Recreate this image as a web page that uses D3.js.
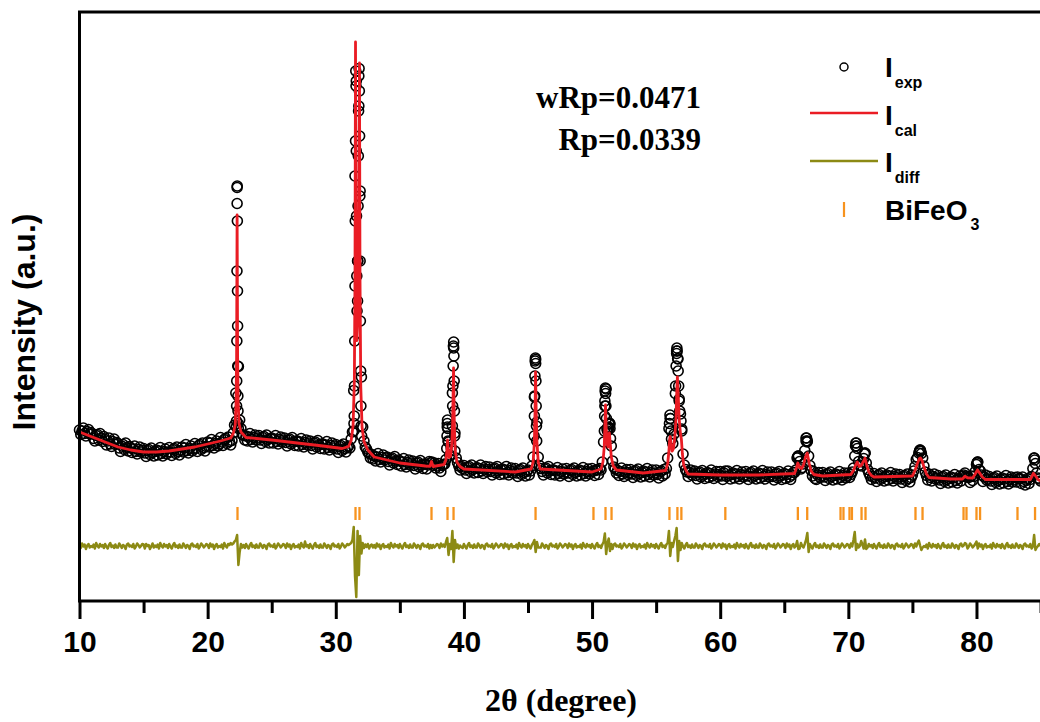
<!DOCTYPE html>
<html><head><meta charset="utf-8">
<script src="https://cdn.jsdelivr.net/npm/d3@7"></script>
<style>body{margin:0;background:#fff} svg{display:block}</style>
</head><body>
<svg id="c" width="1040" height="722"></svg>
<script>
// ---------------- data ----------------
const xMajorTicks = [10,20,30,40,50,60,70,80];
const xMinorTicks = [15,25,35,45,55,65,75,85];
const obsStart = 10, obsStep = 0.1;
const obsI = [
3420,3330,3400,3460,3350,3300,3390,3430,3340,3370,
3340,3250,3200,3310,3330,3220,3350,3260,3190,3290,
3230,3120,3200,3260,3140,3090,3190,3240,3130,3170,
3150,3060,2990,3100,3130,3030,3160,3070,3000,3090,
3060,2970,3040,3100,2990,2940,3030,3080,2980,3010,
3050,2960,2890,3010,3030,2930,3060,2970,2900,2990,
3020,2920,3000,3070,2950,2900,2990,3040,2940,2980,
3070,2980,2910,3030,3050,2950,3080,2990,2920,3010,
3080,2980,3060,3130,3010,2960,3050,3100,3000,3040,
3150,3060,2990,3110,3130,3030,3160,3070,3000,3090,
3180,3080,3160,3230,3110,3060,3150,3200,3100,3140,
3270,3180,3110,3230,3250,3150,3280,3190,3120,3210,
3360,3520,4160,8270,4690,3620,3450,3330,3310,3220,
3300,3200,3280,3350,3230,3180,3270,3320,3220,3260,
3310,3220,3150,3270,3290,3190,3320,3230,3160,3250,
3260,3160,3240,3310,3190,3140,3230,3280,3180,3220,
3260,3170,3100,3220,3240,3140,3270,3180,3110,3200,
3200,3100,3180,3250,3130,3080,3170,3220,3120,3160,
3200,3110,3040,3160,3180,3080,3210,3120,3050,3140,
3140,3040,3120,3190,3070,3020,3110,3160,3060,3100,
3130,3040,2970,3090,3110,3010,3140,3050,2980,3070,
3100,3060,3240,3380,4210,8500,10400,6800,9900,8200,
4480,3480,3200,3080,3040,2980,2950,2860,2930,2840,
2900,2800,2880,2950,2830,2780,2870,2920,2820,2860,
2880,2790,2720,2840,2860,2760,2890,2800,2730,2820,
2800,2700,2780,2850,2730,2680,2770,2820,2720,2760,
2800,2710,2640,2760,2780,2680,2810,2720,2650,2740,
2740,2640,2720,2790,2760,2780,2710,2760,2660,2700,
2750,2660,2590,2710,2730,2740,2830,3480,3180,2920,
3070,4160,5060,3360,2860,2770,2700,2620,2690,2650,
2710,2620,2550,2670,2690,2590,2720,2630,2560,2650,
2670,2570,2650,2720,2600,2550,2640,2690,2590,2630,
2680,2590,2520,2640,2660,2560,2690,2600,2530,2620,
2640,2540,2620,2690,2570,2520,2610,2660,2560,2600,
2650,2560,2490,2610,2630,2530,2660,2570,2500,2590,
2620,2520,2600,2700,2880,4080,4830,3580,2880,2710,
2650,2590,2520,2640,2660,2560,2690,2600,2530,2620,
2620,2520,2600,2670,2550,2500,2590,2640,2540,2580,
2650,2560,2490,2610,2630,2530,2660,2570,2500,2590,
2620,2520,2600,2670,2550,2500,2590,2640,2540,2580,
2650,2600,2510,2610,2630,2530,2650,2620,2780,3180,
3900,4240,3400,3480,3540,3100,2800,2680,2640,2560,
2610,2510,2590,2660,2540,2490,2580,2630,2530,2570,
2630,2540,2470,2590,2610,2510,2640,2550,2480,2570,
2600,2500,2580,2650,2530,2480,2570,2620,2520,2560,
2620,2530,2460,2580,2600,2500,2630,2540,2650,2860,
3450,3650,3240,3150,3340,4150,4950,4840,4040,3740,
3440,2940,2720,2630,2580,2490,2570,2620,2520,2560,
2600,2510,2440,2560,2580,2480,2610,2520,2450,2540,
2570,2470,2550,2620,2500,2450,2540,2590,2490,2530,
2590,2500,2430,2560,2600,2490,2600,2510,2440,2530,
2560,2460,2540,2610,2490,2440,2530,2580,2480,2520,
2590,2500,2430,2550,2570,2470,2600,2510,2440,2530,
2560,2460,2540,2610,2490,2440,2530,2580,2480,2520,
2580,2490,2420,2540,2560,2460,2590,2500,2430,2520,
2550,2450,2530,2600,2480,2430,2520,2570,2570,2620,
2860,2900,2790,2640,2670,2740,3010,3260,3200,2900,
2710,2610,2500,2590,2450,2430,2520,2570,2470,2510,
2570,2480,2410,2530,2550,2450,2580,2490,2420,2510,
2540,2440,2520,2590,2470,2420,2510,2560,2460,2500,
2560,2470,2530,2580,2660,2900,3160,3050,2790,2720,
2700,2780,2850,2960,2760,2630,2560,2500,2430,2490,
2550,2460,2390,2510,2530,2430,2560,2470,2400,2490,
2520,2420,2500,2570,2450,2400,2490,2540,2440,2480,
2530,2440,2370,2490,2510,2410,2540,2450,2380,2470,
2520,2600,2690,2830,2870,2960,3020,2950,2860,2700,
2580,2510,2420,2540,2470,2400,2490,2540,2440,2460,
2510,2420,2350,2470,2490,2390,2520,2430,2360,2450,
2480,2380,2460,2530,2410,2360,2450,2500,2400,2490,
2520,2560,2500,2480,2470,2370,2500,2410,2490,2590,
2730,2780,2630,2600,2520,2390,2480,2520,2420,2440,
2490,2400,2330,2450,2470,2370,2500,2410,2340,2430,
2460,2360,2440,2510,2390,2340,2430,2480,2380,2420,
2470,2380,2480,2440,2450,2350,2480,2390,2320,2410,
2450,2350,2430,2490,2650,2860,2750,2560,2460,2440,
2400];
// extra finely spaced observed points on the peak flanks [2theta, I]
const obsPeakPts = [
[22.24,3480],[22.25,3600],[22.26,3900],[22.27,4400],[22.28,5200],[22.29,6600],[22.30,7950],[22.31,8300],[22.32,7600],[22.33,6200],[22.34,5500],[22.35,4700],[22.36,4100],[22.37,3800],[22.38,3550],[22.40,3450],
[31.40,3400],[31.42,3550],[31.44,3700],[31.46,4300],[31.48,5200],[31.50,6300],[31.52,7600],[31.54,9200],[31.56,10600],[31.58,10300],[31.60,9000],[31.62,7700],[31.64,6500],[31.66,5800],
[31.70,6000],[31.72,6800],[31.74,7900],[31.76,8900],[31.78,9800],[31.80,10500],[31.82,10650],[31.84,10200],[31.86,9300],[31.88,8100],[31.90,6800],[31.92,5600],[31.94,4600],[31.96,3900],[31.98,3500],[32.02,3300],
[38.66,3050],[38.68,3300],[38.70,3550],[38.72,3620],[38.74,3450],[38.76,3200],
[39.10,3500],[39.12,3900],[39.14,4300],[39.16,4700],[39.18,5100],[39.20,5180],[39.22,4900],[39.24,4400],[39.26,3800],[39.28,3300],[39.30,3000],
[45.48,3300],[45.50,3700],[45.52,4100],[45.54,4500],[45.56,4800],[45.58,4860],[45.60,4750],[45.62,4400],[45.64,3900],[45.66,3500],[45.68,3200],
[50.96,3400],[50.98,3700],[51.00,4000],[51.02,4200],[51.04,4260],[51.06,4150],[51.08,3900],[51.12,3650],[51.16,3450],[51.28,3450],[51.32,3540],[51.36,3560],[51.40,3450],[51.44,3250],
[56.04,3550],[56.08,3720],[56.12,3650],[56.16,3400],[56.52,4300],[56.56,4700],[56.60,5000],[56.62,5060],[56.64,5000],[56.68,4850],[56.72,4600],[56.76,4300],[56.80,4000],[56.84,3800],[56.94,3600],[57.00,3400],
[66.04,2880],[66.08,2900],[66.70,3200],[66.74,3260],[66.78,3180],
[70.56,3100],[70.60,3160],[70.64,3100],[71.26,2940],[71.30,2960],
[75.56,3000],[75.60,3020],[75.64,3000],
[80.04,2760],[80.08,2780],
[84.50,2860],[84.54,2820]];
// calculated profile [2theta, I]
const calcPts = [
[10,3380],[11,3280],[12,3180],[13,3080],[14,3020],[15,2980],[16,2980],[17,3000],[18,3040],[19,3080],[20,3140],[21,3200],[21.8,3260],
[22.0,3350],[22.15,3520],[22.22,3970],[22.26,4870],[22.30,7720],[22.34,4880],[22.38,3990],[22.45,3550],[22.6,3380],
[23,3270],[25,3220],[27,3160],[29,3100],[30.5,3050],
[31.0,3090],[31.2,3210],[31.35,3510],[31.45,4410],[31.5,6510],[31.54,11180],[31.58,6810],[31.65,5210],[31.72,5610],[31.78,7200],[31.85,10760],[31.89,6490],[31.95,4290],[32.05,3480],[32.2,3190],[32.5,3020],
[33,2880],[35,2760],[37,2700],[37.35,2695],[37.47,2790],[37.6,2690],
[38.45,2730],[38.6,2830],[38.68,3030],[38.72,3220],[38.77,3030],[38.85,2870],[38.95,2890],[39.05,3120],[39.12,3570],[39.19,4660],[39.25,3560],[39.32,3010],[39.45,2780],[39.7,2690],
[40,2640],[44,2580],
[45.25,2640],[45.4,2780],[45.5,3180],[45.55,3780],[45.59,4580],[45.64,3780],[45.7,3180],[45.8,2780],[45.95,2640],
[50,2580],[50.7,2640],[50.85,2780],[50.95,3080],[51.0,3480],[51.05,3920],[51.1,3480],[51.18,3130],[51.25,3080],[51.3,3200],[51.35,3360],[51.42,3150],[51.5,2880],[51.65,2700],[51.9,2620],
[54,2560],
[55.75,2610],[55.9,2750],[56.0,3000],[56.06,3250],[56.1,3290],[56.16,3150],[56.25,3000],[56.35,3050],[56.45,3250],[56.55,3650],[56.62,4250],[56.66,4480],[56.72,4140],[56.8,3640],[56.9,3340],[56.97,3240],[57.05,2940],[57.15,2720],[57.35,2600],[57.5,2540],
[60,2520],[63,2520],
[65.8,2550],[65.95,2660],[66.06,2760],[66.2,2670],[66.35,2650],[66.5,2720],[66.65,2880],[66.79,2960],[66.95,2750],[67.1,2600],[67.3,2530],
[68,2500],
[70.2,2530],[70.4,2610],[70.55,2710],[70.7,2780],[70.85,2690],[71.0,2710],[71.15,2780],[71.3,2860],[71.45,2700],[71.6,2580],[71.8,2510],
[72,2480],
[75.0,2500],[75.2,2610],[75.4,2760],[75.55,2850],[75.63,2860],[75.75,2810],[75.9,2680],[76.1,2540],[76.3,2470],
[78,2440],[78.9,2440],[79.1,2495],[79.3,2465],[79.7,2460],[79.9,2540],[80.08,2620],[80.25,2560],[80.45,2480],[80.7,2430],
[84.2,2430],[84.35,2505],[84.45,2555],[84.6,2505],[84.8,2430],[85,2400]];
// difference curve (obs - calc) on the scan grid
const diffI = [
20,-40,50,-10,30,-60,10,40,-30,0,
-20,30,-50,60,0,-30,40,-10,20,-40,
40,-10,-50,20,60,-20,10,-40,30,-30,
-30,50,10,-40,20,0,-60,30,50,-10,
10,-20,40,-50,-10,50,20,-30,0,40,
30,-50,40,0,20,-60,-10,50,-30,10,
-20,30,-50,60,0,-30,40,-10,20,-40,
40,-10,-50,20,60,-20,10,-40,30,-30,
-30,50,10,-40,20,0,-60,30,50,-10,
10,-20,40,-50,-10,50,20,-30,0,40,
20,-40,50,-10,30,-60,10,40,-30,0,
-20,30,-50,60,0,-30,40,20,60,30,
50,90,120,220,-380,-120,40,-30,20,-40,
40,-10,-50,20,60,-20,10,-40,30,-30,
-30,50,10,-40,20,0,-60,30,50,-10,
10,-20,40,-50,-10,50,20,-30,0,40,
20,-40,50,-10,30,-60,10,40,-30,0,
-20,30,-50,60,0,-30,90,-10,20,-40,
40,-10,-50,20,60,-20,10,-40,30,-30,
-30,50,10,-40,20,0,-60,30,50,-10,
10,-20,40,-50,-10,50,20,-30,0,40,
20,40,60,120,380,-600,-1020,300,-580,200,
-150,60,-40,30,-20,40,-50,10,30,-30,
20,-40,50,-10,30,-60,10,40,-30,0,
-20,30,-50,60,0,-30,40,-10,20,-40,
40,-10,-50,20,60,-20,10,-40,30,-30,
-30,50,10,-40,20,0,-60,30,50,-10,
10,-20,40,-50,20,-40,20,-30,0,40,
20,-40,50,-10,30,-20,80,160,-180,40,
-60,300,-320,120,-40,30,-50,10,-20,-40,
40,-10,-50,20,60,-20,10,-40,30,-30,
-30,50,10,-40,20,0,-60,30,50,-10,
10,-20,40,-50,-10,50,20,-30,0,40,
20,-40,50,-10,30,-60,10,40,-30,0,
-20,30,-50,60,0,-30,40,-10,20,-40,
40,-10,-50,20,60,120,-120,80,-30,-30,
-30,50,10,-40,20,0,-60,30,50,-10,
10,-20,40,-50,-10,50,20,-30,0,40,
20,-40,50,-10,30,-60,10,40,-30,0,
-20,30,-50,60,0,-30,40,-10,20,-40,
40,-10,-50,20,60,-20,10,-40,30,80,
250,-160,60,150,-100,40,-60,30,50,-10,
10,-20,40,-50,-10,50,20,-30,0,40,
20,-40,50,-10,30,-60,10,40,-30,0,
-20,30,-50,60,0,-30,40,-10,20,-40,
40,-10,-50,20,60,-20,10,-40,30,60,
300,-200,60,-20,100,200,360,-300,100,-80,
60,-10,-50,20,60,-20,10,-40,30,-30,
-30,50,10,-40,20,0,-60,30,50,-10,
10,-20,40,-50,-10,50,20,-30,0,40,
20,-40,50,-10,30,-60,10,40,-30,0,
-20,30,-50,60,0,-30,40,-10,20,-40,
40,-10,-50,20,60,-20,10,-40,30,-30,
-30,50,10,-40,20,0,-60,30,50,-10,
10,-20,40,-50,-10,50,20,-30,0,40,
20,-40,50,-10,30,-60,10,40,-30,0,
100,-60,-50,60,0,-30,40,120,260,-120,
40,-10,-50,20,60,-20,10,-40,30,-30,
-30,50,10,-40,20,0,-60,30,50,-10,
10,-20,40,-50,-10,50,20,-30,0,40,
20,-40,50,-10,120,280,-80,40,-30,0,
100,30,-50,130,-60,-30,40,-10,20,-40,
40,-10,-50,20,60,-20,10,-40,30,-30,
-30,50,10,-40,20,0,-60,30,50,-10,
10,-20,40,-50,-10,50,20,-30,0,40,
20,-40,50,-10,60,110,10,-80,-30,0,
-20,30,-50,60,0,-30,40,-10,20,-40,
40,-10,-50,20,60,-20,10,-40,30,-30,
-30,50,10,-40,20,0,-60,30,50,-10,
10,60,40,-50,-10,50,20,-30,0,40,
90,-50,50,-10,30,-60,10,40,-30,0,
-20,30,-50,60,0,-30,40,-10,20,-40,
40,-10,-50,20,60,-20,10,-40,30,-30,
-30,50,10,-40,20,0,-60,30,50,-10,
10,-20,40,-50,-10,220,-80,-30,0,40,
0];
const diffOffset = 1100;
const braggPos = [22.33,31.54,31.85,37.47,38.72,39.19,45.59,50.11,51.05,51.52,56.04,56.66,56.97,60.40,66.06,66.79,69.39,69.62,70.09,70.28,71.03,71.34,75.24,75.79,78.99,79.22,80.00,80.28,83.20,84.57];
const braggRange = [1620, 1880];
const legendLabels = [["I","exp"],["I","cal"],["I","diff"],["BiFeO","3"]];
const statLines = ["wRp=0.0471","Rp=0.0339"];
const xTitle = "2θ (degree)", yTitle = "Intensity (a.u.)";

// ---------------- drawing ----------------
const svg = d3.select("#c");
const x = d3.scaleLinear().domain([10, 90]).range([79.5, 79.5 + 80 * 12.814]);
const y = d3.scaleLinear().domain([0, 11780]).range([601, 12]);

const RED = "#ea1c24", OLIVE = "#8c8a14", ORANGE = "#f7931e";

const obsData = obsI.map((v, i) => [obsStart + i * obsStep, v]).concat(obsPeakPts);

svg.append("g").selectAll("circle").data(obsData).join("circle")
  .attr("cx", d => x(d[0])).attr("cy", d => y(d[1])).attr("r", 5)
  .attr("fill", "none").attr("stroke", "#000").attr("stroke-width", 1.6);

const line = d3.line().x(d => x(d[0])).y(d => y(d[1]));
svg.append("path").datum(calcPts).attr("d", line)
  .attr("fill", "none").attr("stroke", RED).attr("stroke-width", 2.8).attr("stroke-linejoin", "round");

const diffData = diffI.map((v, i) => [obsStart + i * obsStep, v + diffOffset]);
svg.append("path").datum(diffData).attr("d", line)
  .attr("fill", "none").attr("stroke", OLIVE).attr("stroke-width", 2.5).attr("stroke-linejoin", "round");

svg.append("g").selectAll("line").data(braggPos).join("line")
  .attr("x1", d => x(d)).attr("x2", d => x(d))
  .attr("y1", y(braggRange[0])).attr("y2", y(braggRange[1]))
  .attr("stroke", ORANGE).attr("stroke-width", 2.3);

// frame
svg.append("rect").attr("x", x(10)).attr("y", y(11780))
  .attr("width", x(90) - x(10)).attr("height", y(0) - y(11780))
  .attr("fill", "none").attr("stroke", "#000").attr("stroke-width", 3);

// x axis
const gx = svg.append("g").attr("transform", `translate(0,${y(0)})`);
gx.call(d3.axisBottom(x).tickValues(xMajorTicks).tickSize(18).tickSizeOuter(0).tickFormat(d3.format("d")));
gx.select(".domain").remove();
gx.selectAll(".tick line").attr("stroke", "#000").attr("stroke-width", 3);
gx.selectAll(".tick text").attr("y", 51).attr("dy", null).attr("fill", "#000")
  .style("font-family", "'Liberation Sans', Arial, sans-serif").style("font-weight", "bold").style("font-size", "30px");
const gm = svg.append("g").attr("transform", `translate(0,${y(0)})`);
gm.call(d3.axisBottom(x).tickValues(xMinorTicks).tickSize(12).tickSizeOuter(0).tickFormat(""));
gm.select(".domain").remove();
gm.selectAll(".tick line").attr("stroke", "#000").attr("stroke-width", 3);

// axis titles
svg.append("text").attr("x", 561).attr("y", 711).attr("text-anchor", "middle")
  .style("font-family", "'Liberation Serif', 'Times New Roman', serif").style("font-weight", "bold").style("font-size", "32px")
  .text(xTitle);
svg.append("text").attr("transform", "translate(35,322) rotate(-90)").attr("text-anchor", "middle")
  .style("font-family", "'Liberation Sans', Arial, sans-serif").style("font-weight", "bold").style("font-size", "32px")
  .text(yTitle);

// statistics
svg.append("g").selectAll("text").data(statLines).join("text")
  .attr("x", 701).attr("y", (d, i) => 108 + i * 42).attr("text-anchor", "end")
  .style("font-family", "'Liberation Serif', 'Times New Roman', serif").style("font-weight", "bold").style("font-size", "31px")
  .text(d => d);

// legend
const lg = svg.append("g");
lg.append("circle").attr("cx", 844).attr("cy", 67).attr("r", 4).attr("fill", "none").attr("stroke", "#000").attr("stroke-width", 1.5);
lg.append("line").attr("x1", 810).attr("x2", 878).attr("y1", 113).attr("y2", 113).attr("stroke", RED).attr("stroke-width", 2.6);
lg.append("line").attr("x1", 810).attr("x2", 878).attr("y1", 161).attr("y2", 161).attr("stroke", OLIVE).attr("stroke-width", 2.6);
lg.append("line").attr("x1", 844).attr("x2", 844).attr("y1", 202).attr("y2", 217).attr("stroke", ORANGE).attr("stroke-width", 2.2);
const baseY = [77, 125, 172, 220];
const subY = [88, 136, 183, 230];
legendLabels.forEach((lab, i) => {
  const t = lg.append("text").attr("x", 885).attr("y", baseY[i])
    .style("font-family", "'Liberation Sans', Arial, sans-serif").style("font-weight", "bold").style("font-size", "28px");
  t.append("tspan").text(lab[0]);
  t.append("tspan").attr("y", subY[i]).attr("dx", i === 3 ? 3 : 2).style("font-size", "16px").text(lab[1]);
});
</script>
</body></html>
